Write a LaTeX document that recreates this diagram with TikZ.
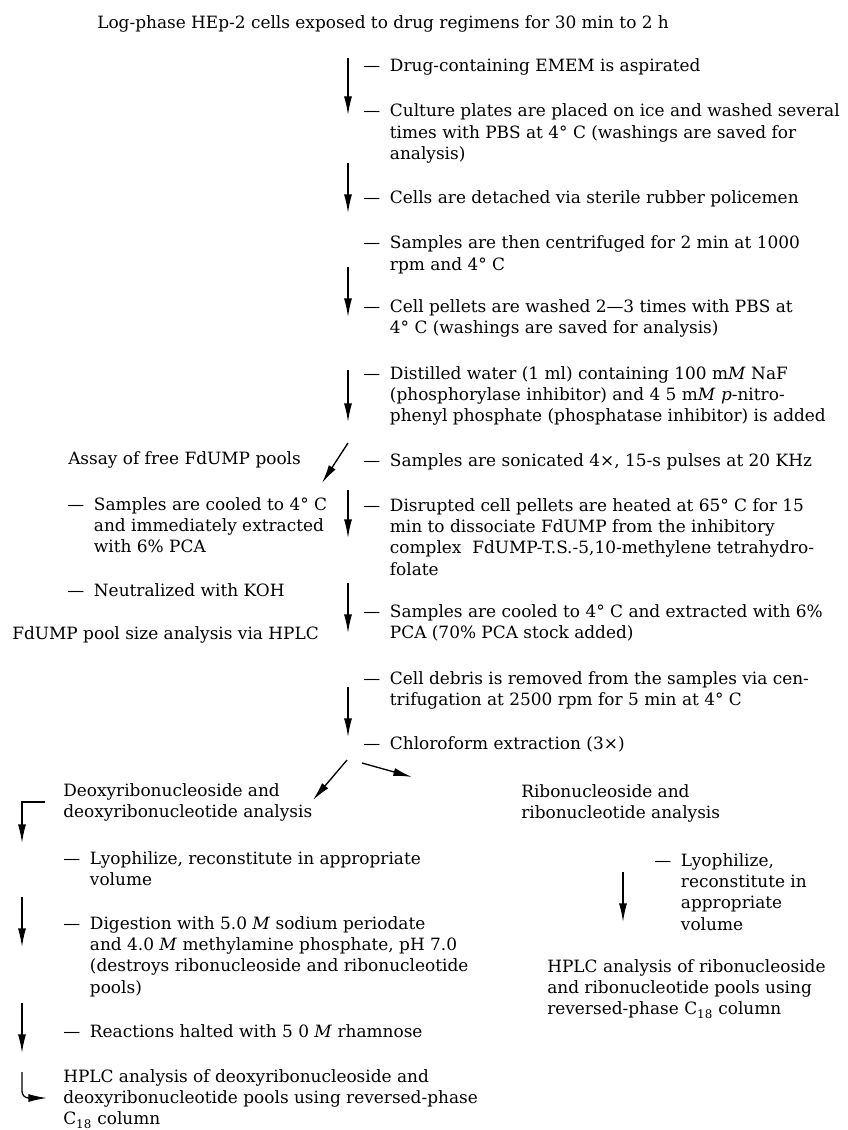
\documentclass[tikz,border=0pt]{standalone}
\usepackage{fontspec}
\setmainfont{DejaVu Serif}
\usetikzlibrary{arrows.meta}
\newcommand{\ml}[1]{\begin{tabular}[t]{@{}l@{}}#1\end{tabular}}
\newcommand{\dl}[1]{\begin{tabular}[t]{@{}l@{}l@{}}\makebox[20pt][l]{—}&#1\end{tabular}}
\tikzset{
  txt/.style={anchor=base west, inner sep=0pt, font=\fontsize{12.7pt}{16.1pt}\selectfont},
  arr/.style={line width=1pt, -{Latex[length=14pt,width=6pt]}},
}
\begin{document}
\begin{tikzpicture}[x=0.75pt, y=-0.75pt]
\useasboundingbox (0,0) rectangle (848,1130);
% main column texts
\node[txt] (title) at (97,29) {Log-phase HEp-2 cells exposed to drug regimens for 30 min to 2 h};
\node[txt] (r1) at (363,72) {\dl{Drug-containing EMEM is aspirated}};
\node[txt] (r2) at (363,117) {\dl{Culture plates are placed on ice and washed several\\ & times with PBS at 4° C (washings are saved for\\ & analysis)}};
\node[txt] (r3) at (363,204) {\dl{Cells are detached via sterile rubber policemen}};
\node[txt] (r4) at (363,249) {\dl{Samples are then centrifuged for 2 min at 1000\\ & rpm and 4° C}};
\node[txt] (r5) at (363,312) {\dl{Cell pellets are washed 2—3 times with PBS at\\ & 4° C (washings are saved for analysis)}};
\node[txt] (r6) at (363,379) {\dl{Distilled water (1 ml) containing 100 m\textit{M} NaF\\ & (phosphorylase inhibitor) and 4 5 m\textit{M} \textit{p}-nitro-\\ & phenyl phosphate (phosphatase inhibitor) is added}};
\node[txt] (r7) at (363,466) {\dl{Samples are sonicated 4×, 15-s pulses at 20 KHz}};
\node[txt] (r8) at (363,511) {\dl{Disrupted cell pellets are heated at 65° C for 15\\ & min to dissociate FdUMP from the inhibitory\\ & complex\ \ FdUMP-T.S.-5,10-methylene tetrahydro-\\ & folate}};
\node[txt] (r9) at (363,617) {\dl{Samples are cooled to 4° C and extracted with 6\%\\ & PCA (70\% PCA stock added)}};
\node[txt] (r10) at (363,684) {\dl{Cell debris is removed from the samples via cen-\\ & trifugation at 2500 rpm for 5 min at 4° C}};
\node[txt] (r11) at (363,749) {\dl{Chloroform extraction (3×)}};
% FdUMP branch
\node[txt] (assay) at (68,464) {Assay of free FdUMP pools};
\node[txt] (l1) at (67,510) {\dl{Samples are cooled to 4° C\\ & and immediately extracted\\ & with 6\% PCA}};
\node[txt] (l2) at (67,596) {\dl{Neutralized with KOH}};
\node[txt] (fd) at (12,639) {FdUMP pool size analysis via HPLC};
% deoxy branch
\node[txt] (deoxy) at (63,796) {\ml{Deoxyribonucleoside and\\ deoxyribonucleotide analysis}};
\node[txt] (d1) at (63,864) {\dl{Lyophilize, reconstitute in appropriate\\ & volume}};
\node[txt] (d2) at (63,929) {\dl{Digestion with 5.0 \textit{M} sodium periodate\\ & and 4.0 \textit{M} methylamine phosphate, pH 7.0\\ & (destroys ribonucleoside and ribonucleotide\\ & pools)}};
\node[txt] (d3) at (63,1037) {\dl{Reactions halted with 5 0 \textit{M} rhamnose}};
\node[txt] (hd) at (63,1082) {\ml{HPLC analysis of deoxyribonucleoside and\\ deoxyribonucleotide pools using reversed-phase\\ C\textsubscript{18} column}};
% ribo branch
\node[txt] (ribo) at (521,797) {\ml{Ribonucleoside and\\ ribonucleotide analysis}};
\node[txt] (e1) at (654,866) {\dl{Lyophilize,\\ & reconstitute in\\ & appropriate\\ & volume}};
\node[txt] (hr) at (547,972) {\ml{HPLC analysis of ribonucleoside\\ and ribonucleotide pools using\\ reversed-phase C\textsubscript{18} column}};
% arrow coordinates
\coordinate (a1s) at (348,58);  \coordinate (a1e) at (348,115);
\coordinate (a2s) at (348,163); \coordinate (a2e) at (348,213);
\coordinate (a3s) at (348,267); \coordinate (a3e) at (348,317);
\coordinate (a4s) at (348,370); \coordinate (a4e) at (348,422);
\coordinate (gs) at (348,443);  \coordinate (ge) at (322,483);
\coordinate (a5s) at (348,490); \coordinate (a5e) at (348,538);
\coordinate (a6s) at (348,583); \coordinate (a6e) at (348,633);
\coordinate (a7s) at (348,687); \coordinate (a7e) at (348,737);
\coordinate (sls) at (347,760); \coordinate (sle) at (313,800);
\coordinate (srs) at (362,763); \coordinate (sre) at (412,777);
\coordinate (b1s) at (45,802);  \coordinate (b1e) at (22,843);
\coordinate (b2s) at (22,897);  \coordinate (b2e) at (22,947);
\coordinate (b3s) at (22,1003); \coordinate (b3e) at (22,1053);
\coordinate (b4s) at (22,1072); \coordinate (b4e) at (47,1098);
\coordinate (c1s) at (623,872); \coordinate (c1e) at (623,922);
% arrows
\draw[arr] (a1s) -- (a1e);
\draw[arr] (a2s) -- (a2e);
\draw[arr] (a3s) -- (a3e);
\draw[arr] (a4s) -- (a4e);
\draw[arr] (gs) -- (ge);
\draw[arr] (a5s) -- (a5e);
\draw[arr] (a6s) -- (a6e);
\draw[arr] (a7s) -- (a7e);
\draw[arr] (sls) -- (sle);
\draw[arr] (srs) -- (sre);
\draw[arr] (b1s) -| (b1e);
\draw[arr] (b2s) -- (b2e);
\draw[arr] (b3s) -- (b3e);
\draw[arr, rounded corners=5pt] (b4s) |- (b4e);
\draw[arr] (c1s) -- (c1e);
\end{tikzpicture}
\end{document}
